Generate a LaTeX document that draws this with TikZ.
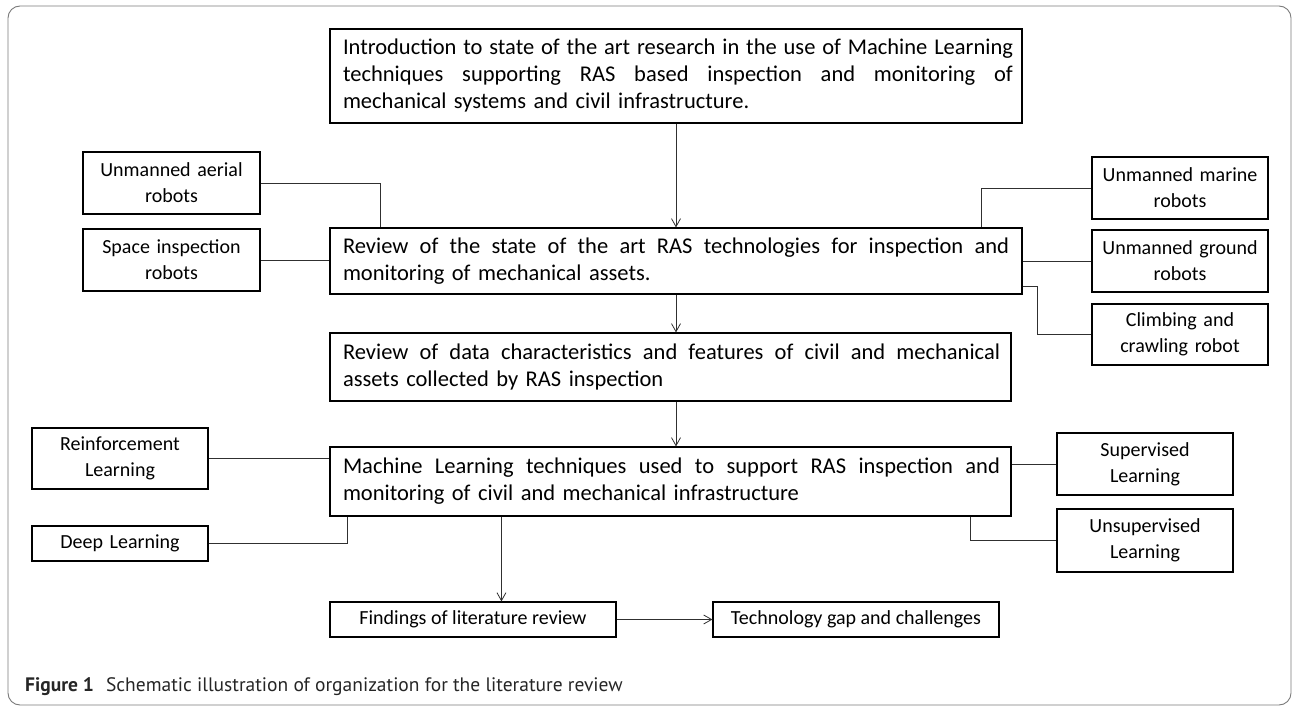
\documentclass[tikz,border=0pt]{standalone}
\usepackage{fontspec}
\setmainfont{Carlito}
\newfontfamily\capfont{PT Sans}
\usetikzlibrary{arrows.meta}
\definecolor{framegray}{HTML}{7A7A7A}
\definecolor{conngray}{HTML}{303030}
\newcommand{\jline}[2]{\leavevmode\hbox to #1{\spaceskip=0.22em plus 1fil minus 0.08em\relax #2}}
\begin{document}
\begin{tikzpicture}[x=1pt,y=-1pt,
  bigbox/.style={draw=black, line width=1.1pt, rectangle, inner sep=0pt, text width=666pt, align=left,
     font=\fontsize{22.5}{27}\selectfont},
  smallbox/.style={draw=black, line width=1.1pt, rectangle, inner sep=0pt, minimum width=176pt, minimum height=62pt,
     text width=170pt, align=center, font=\fontsize{20}{26}\selectfont},
  flatbox/.style={draw=black, line width=1.1pt, rectangle, inner sep=0pt, minimum width=286pt, minimum height=35pt,
     align=center, font=\fontsize{20}{24}\selectfont},
  conn/.style={draw=conngray, line width=0.8pt},
  arr/.style={draw=conngray, line width=0.8pt, -{Straight Barb[length=8pt,width=9pt]}}
]
\useasboundingbox (0,0) rectangle (1293,708);
\draw[framegray, line width=0.9pt, rounded corners=12pt] (8,6) rectangle (1291,705);

% main column
\node[bigbox, minimum width=692pt, minimum height=94pt] (top) at (676,76) {%
\jline{670pt}{Introduction to state of the art research in the use of Machine Learning}\\
\jline{670pt}{techniques supporting RAS based inspection and monitoring of}\\
mechanical systems and civil infrastructure.};
\node[bigbox, minimum width=692pt, minimum height=66pt] (rev) at (676,261) {%
\jline{666pt}{Review of the state of the art RAS technologies for inspection and}\\
monitoring of mechanical assets.};
\node[bigbox, text width=655pt, minimum width=681pt, minimum height=68pt] (data) at (670.5,367) {%
\jline{657pt}{Review of data characteristics and features of civil and mechanical}\\
assets collected by RAS inspection};
\node[bigbox, text width=655pt, minimum width=681pt, minimum height=69pt] (ml) at (670.5,481.5) {%
\jline{657pt}{Machine Learning techniques used to support RAS inspection and}\\
monitoring of civil and mechanical infrastructure};

% side boxes
\node[smallbox, minimum width=177pt] (aerial) at (171.5,183) {Unmanned aerial\\robots};
\node[smallbox, minimum width=177pt] (space) at (171.5,260) {Space inspection\\robots};
\node[smallbox] (marine) at (1180,188) {Unmanned marine\\robots};
\node[smallbox] (ground) at (1180,261) {Unmanned ground\\robots};
\node[smallbox, minimum height=61pt] (climb) at (1180,334.5) {Climbing and\\crawling robot};
\node[smallbox, minimum height=61pt] (reinf) at (120,458.5) {Reinforcement\\Learning};
\node[smallbox, minimum height=35pt] (deep) at (120,543.5) {Deep Learning};
\node[smallbox] (sup) at (1145,464) {Supervised\\Learning};
\node[smallbox, minimum height=63pt] (unsup) at (1145,540.5) {Unsupervised\\Learning};

% bottom
\node[flatbox] (find) at (473,619.5) {Findings of literature review};
\node[flatbox] (tech) at (856,619.5) {Technology gap and challenges};

% arrows
\draw[arr] (top.south) -- (rev.north);
\draw[arr] (rev.south) -- (rev.south |- data.north);
\draw[arr] (data.south -| rev.south) -- (ml.north -| rev.south);
\draw[arr] ([xshift=172pt]ml.south west) -- ([xshift=172pt]ml.south west |- find.north);
\draw[arr] (find.east) -- (tech.west);

% side connectors
\draw[conn] (aerial.east) -| ([xshift=51pt]rev.north west);
\draw[conn] (space.east) -- (space.east -| rev.west);
\draw[conn] ([xshift=305pt]rev.north) |- (marine.west);
\draw[conn] (rev.east |- ground.west) -- (ground.west);
\draw[conn] ([yshift=8pt]rev.south east) -- ++(15,0) |- (climb.west);
\draw[conn] (reinf.east) -- (reinf.east -| ml.west);
\draw[conn] (deep.east) -| ([xshift=18pt]ml.south west);
\draw[conn] (sup.west) -- (sup.west -| ml.east);
\draw[conn] ([xshift=641pt]ml.south west) |- (unsup.west);

% caption
\node[anchor=base west, inner sep=0pt, text=black!85, font=\capfont\fontsize{19.5}{22}\selectfont] (cap) at (25,691)
  {\textbf{Figure 1}\hspace{12pt}Schematic illustration of organization for the literature review};
\end{tikzpicture}
\end{document}
